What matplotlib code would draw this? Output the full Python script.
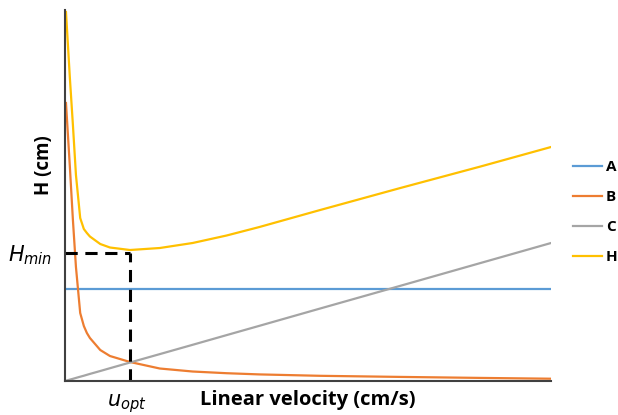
import matplotlib.pyplot as plt

# van Deemter terms sampled along the linear velocity
u = [0.08, 0.4, 0.65, 0.9, 1.25, 1.55, 1.8, 2.05, 2.9, 3.7, 5.35,
     7.8, 10.5, 13.3, 16.0, 21.0, 27.6, 34.2, 40]
A = [9.2] * len(u)
B = [27.8, 21.4, 16.1, 11.4, 6.8, 5.5, 4.8, 4.3, 3.1, 2.5, 1.9,
     1.25, 0.95, 0.78, 0.66, 0.52, 0.41, 0.31, 0.23]
C = [0.03, 0.14, 0.22, 0.31, 0.43, 0.53, 0.62, 0.71, 1.0, 1.28, 1.85,
     2.69, 3.62, 4.59, 5.52, 7.25, 9.52, 11.8, 13.8]
H = [36.9, 30.3, 25.6, 20.6, 16.3, 15.2, 14.8, 14.45, 13.7, 13.35, 13.1,
     13.3, 13.8, 14.55, 15.4, 17.1, 19.3, 21.45, 23.4]

u_opt = 5.35
H_min = 12.8

fig = plt.figure(figsize=(6.18, 4.15), dpi=100)
ax = fig.add_axes([0.1052, 0.0819, 0.7864, 0.894])

ax.plot(u, A, color='#5B9BD5', lw=1.6, label='A')
ax.plot(u, B, color='#ED7D31', lw=1.6, label='B')
ax.plot(u, C, color='#A5A5A5', lw=1.6, label='C')
ax.plot(u, H, color='#FFC000', lw=1.6, label='H')

# dashed guides to the minimum plate height
ax.plot([0, u_opt], [H_min, H_min], color='black', lw=2.2, dashes=(4, 2.5))
ax.plot([u_opt, u_opt], [0, H_min], color='black', lw=2.2, dashes=(4, 2.5))

ax.set_xlim(0, 40)
ax.set_ylim(0, 37.1)
ax.set_xticks([])
ax.set_yticks([])
for side in ['top', 'right']:
    ax.spines[side].set_visible(False)
for side in ['left', 'bottom']:
    ax.spines[side].set_color('#404040')
    ax.spines[side].set_linewidth(1.5)

fig.text(0.498, 0.035, 'Linear velocity (cm/s)', ha='center', va='center',
         fontsize=14.5, fontweight='bold', family='Open Sans')
fig.text(0.071, 0.602, 'H (cm)', ha='center', va='center', rotation=90,
         fontsize=13.5, fontweight='bold', family='Open Sans')
fig.text(0.013, 0.385, '$H_{min}$', ha='left', va='center', fontsize=15)
fig.text(0.205, 0.028, '$u_{opt}$', ha='center', va='center', fontsize=15)

leg = ax.legend(loc='upper left', bbox_to_anchor=(0.927, 0.614),
                bbox_transform=fig.transFigure, frameon=False,
                borderaxespad=0, borderpad=0,
                handlelength=1.9, handletextpad=0.25, labelspacing=1.05,
                prop={'family': 'Open Sans', 'weight': 'bold', 'size': 11})

fig.savefig('out.png', dpi=100)
